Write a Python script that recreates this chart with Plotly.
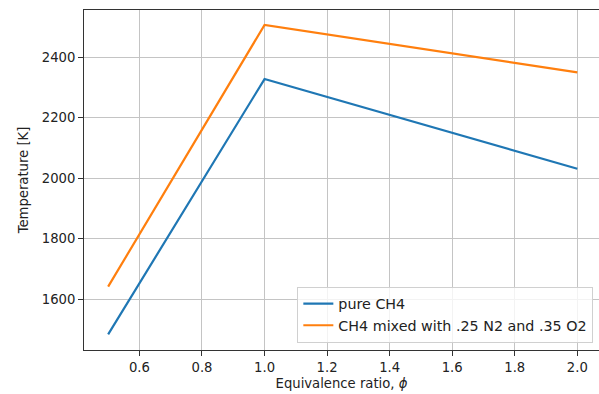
import plotly.graph_objects as go

phi = [0.5, 1.0, 2.0]
T_pure = [1483, 2328, 2031]
T_mixed = [1641, 2507, 2350]
names = ["pure CH4", "CH4 mixed with .25 N2 and .35 O2"]
x_ticks = [0.6, 0.8, 1.0, 1.2, 1.4, 1.6, 1.8, 2.0]
y_ticks = [1600, 1800, 2000, 2200, 2400]

FONT = "DejaVu Sans"
fig = go.Figure()
fig.add_trace(go.Scatter(x=phi, y=T_pure, mode="lines", name=names[0],
                         line=dict(color="#1f77b4", width=2.2)))
fig.add_trace(go.Scatter(x=phi, y=T_mixed, mode="lines", name=names[1],
                         line=dict(color="#ff7f0e", width=2.2)))

fig.update_layout(
    width=599, height=394,
    margin=dict(l=84, r=0, t=10, b=44, autoexpand=False),
    paper_bgcolor="white", plot_bgcolor="white",
    font=dict(family=FONT, size=12, color="#222"),
    showlegend=True,
    legend=dict(x=0.989, y=0.021, xanchor="right", yanchor="bottom",
                bgcolor="rgba(255,255,255,0.8)", bordercolor="#d0d0d0", borderwidth=1,
                font=dict(family=FONT, size=14.3, color="#222"),
                tracegroupgap=0, itemwidth=30),
)
fig.update_xaxes(
    range=[0.4228, 2.0693], tickvals=x_ticks, ticktext=[f"{v:.1f}" for v in x_ticks],
    showgrid=True, gridcolor="#c4c4c4", gridwidth=1,
    showline=True, linecolor="#333", linewidth=1, mirror=True,
    ticks="outside", ticklen=5, tickcolor="#333", zeroline=False,
    tickfont=dict(family=FONT, size=13.2, color="#222"),
    title=dict(text="Equivalence ratio, <i>ϕ</i>", standoff=4,
               font=dict(family=FONT, size=13.2, color="#222")),
)
fig.update_yaxes(
    range=[1431.2, 2556.6], tickvals=y_ticks,
    showgrid=True, gridcolor="#c4c4c4", gridwidth=1,
    showline=True, linecolor="#333", linewidth=1,
    ticks="outside", ticklen=5, tickcolor="#333", zeroline=False,
    tickfont=dict(family=FONT, size=13.2, color="#222"),
    title=dict(text="Temperature [K]", standoff=10,
               font=dict(family=FONT, size=13.2, color="#222")),
)
fig.write_html("out.html")
